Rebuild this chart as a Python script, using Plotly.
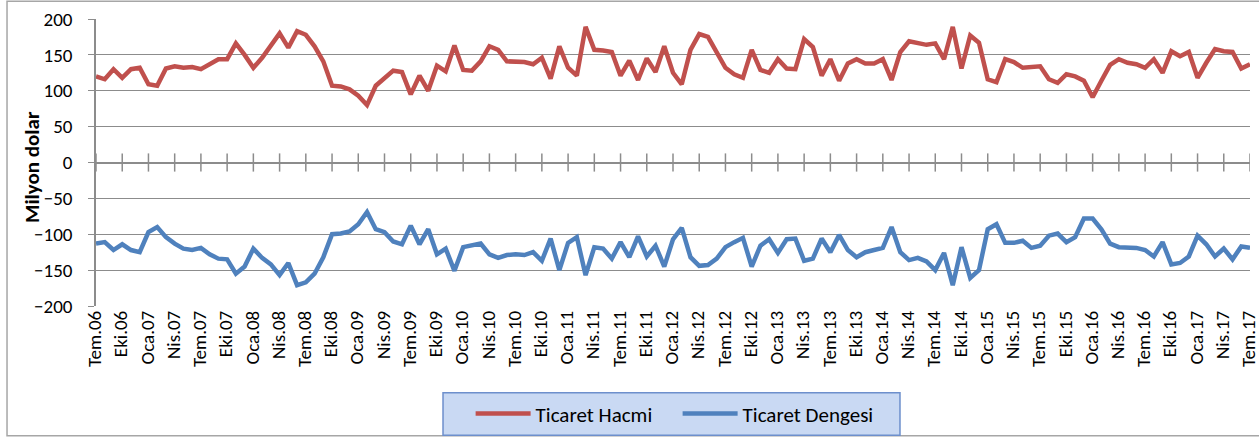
import plotly.graph_objects as go

# aylar: Tem.06 - Tem.17
ay_adlari = ['Oca', 'Şub', 'Mar', 'Nis', 'May', 'Haz', 'Tem', 'Ağu', 'Eyl', 'Eki', 'Kas', 'Ara']
aylar = [f'{ay_adlari[(6 + i) % 12]}.{(2006 + (6 + i) // 12) % 100:02d}' for i in range(133)]
etiketler = aylar[::3]

ticaret_hacmi = [
    120, 116, 130, 118, 130, 132, 109, 107, 131, 134, 132, 133, 130, 137, 144, 144,
    166, 150, 132, 146, 162, 180, 160, 183, 178, 162, 141, 107, 106, 102, 93, 80,
    107, 118, 128, 126, 95, 121, 100, 135, 127, 163, 129, 128, 141, 162, 157, 141,
    140, 140, 137, 146, 117, 162, 132, 121, 189, 157, 156, 154, 121, 142, 115, 145,
    126, 162,
    125, 109, 157, 179, 175, 153, 132, 123, 118, 157, 129, 125, 144, 131, 130, 172,
    161, 121, 144, 114, 138, 144, 138, 138, 144, 115, 154, 169, 167, 164, 166, 144, 189,
    131, 177, 167, 116, 112, 144, 140, 132, 133, 134, 116, 111, 123, 120, 114, 91,
    114, 136, 144, 139, 137, 132, 144, 125, 155, 148, 154, 118, 139, 158, 155, 154,
    131, 137,
]

ticaret_dengesi = [
    -113, -111, -122, -114, -122, -125, -97, -90, -104, -113, -120, -122, -119, -128,
    -134, -135, -155, -145, -120, -133, -142, -157, -140, -171, -167, -155, -132, -100,
    -99, -96, -86, -69,
    -93, -97, -110, -114, -88, -114, -93, -128, -120, -151, -118, -116, -113, -128,
    -133, -129, -128, -129, -125, -137, -106, -150, -112, -104, -157, -118, -120, -134,
    -111, -132, -103, -131, -116, -145,
    -107, -91, -132, -144, -143, -134, -118, -111, -105, -145, -116, -107, -126, -107,
    -106, -137, -134, -106, -125, -101, -122, -132, -125, -122, -119, -90, -125, -136,
    -133, -138, -150, -126, -171,
    -118, -161, -150, -93, -86, -112, -112, -109, -119, -116, -102, -99, -111, -104,
    -78, -78, -93, -113, -118, -118, -119, -122, -131, -111, -142, -140, -131, -102,
    -114, -131, -120, -135, -117, -119,
]

FONT = 'Carlito, Calibri, Lato, sans-serif'
GRI = '#8c8c8c'

fig = go.Figure()

fig.add_trace(go.Scatter(
    name='Ticaret Hacmi', x=aylar, y=ticaret_hacmi,
    mode='lines', line=dict(color='#C0504D', width=4.5),
))
fig.add_trace(go.Scatter(
    name='Ticaret Dengesi', x=aylar, y=ticaret_dengesi,
    mode='lines', line=dict(color='#4F81BD', width=4.5),
))

# sıfır çizgisi üzerindeki kesişen tik işaretleri
fig.add_trace(go.Scatter(
    x=etiketler, y=[0] * len(etiketler),
    mode='markers',
    marker=dict(symbol='line-ns', size=13, line=dict(color=GRI, width=1.5)),
    showlegend=False, hoverinfo='skip',
))

fig.update_layout(
    width=1259, height=443,
    margin=dict(l=96, r=9, t=19, b=133),
    paper_bgcolor='white', plot_bgcolor='white',
    font=dict(family=FONT, size=18, color='black'),
    showlegend=True,
    legend=dict(
        orientation='h', x=0.504, xanchor='center', y=-0.376, yanchor='middle',
        bgcolor='rgba(0,0,0,0)', font=dict(size=21),
        itemwidth=55, entrywidth=137, entrywidthmode='pixels',
    ),
    shapes=[
        # grafik alanı çerçevesi
        dict(type='rect', xref='paper', yref='paper',
             x0=-0.0771, x1=1.0104, y0=-0.4519, y1=1.0619,
             line=dict(color='#a6a6a6', width=1.5), layer='below'),
        # lejant kutusu
        dict(type='rect', xref='paper', yref='paper',
             x0=0.3007, x1=0.6967, y0=-0.4502, y1=-0.3024,
             fillcolor='#c9d9f3', line=dict(color='#6d8fcc', width=1.5), layer='below'),
    ],
    annotations=[
        dict(text='<b>Milyon dolar</b>', xref='paper', yref='paper',
             x=-0.0555, y=0.4845, xanchor='center', yanchor='middle',
             textangle=-90, showarrow=False, font=dict(size=21)),
    ],
)

fig.update_xaxes(
    type='category', categoryorder='array', categoryarray=aylar,
    range=[0, 132],
    tickmode='array', tickvals=etiketler, ticktext=etiketler,
    tickangle=-90, tickfont=dict(size=19), ticklabelshift=-1,
    showgrid=False, showline=False, ticks='',
    automargin=False,
)

fig.update_yaxes(
    range=[-200, 200], dtick=50, tick0=0,
    showgrid=True, gridcolor=GRI, gridwidth=1,
    zeroline=True, zerolinecolor=GRI, zerolinewidth=1.5,
    showline=True, linecolor=GRI, linewidth=1.5,
    ticks='outside', ticklen=6, tickcolor=GRI,
    ticklabelstandoff=12, tickfont=dict(size=19),
    automargin=False,
)

# sayfa gövdesinin varsayılan 8px kenar boşluğunu kaldır
fig.write_html('out.html', config={'displayModeBar': False},
               post_script="document.body.style.margin='0';")
